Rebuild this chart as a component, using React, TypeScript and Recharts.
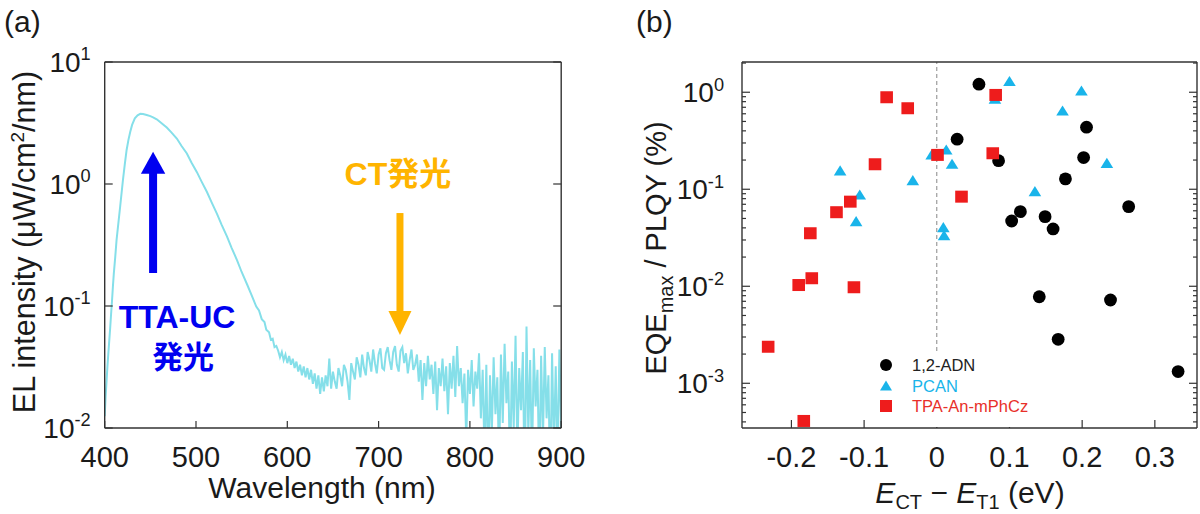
import React from 'react';
import { LineChart, Line, XAxis, YAxis, ScatterChart, Scatter, ReferenceLine, ReferenceDot, Legend } from 'recharts';

const FONT = "'Liberation Sans', Arial, 'Noto Sans CJK JP', sans-serif";
const AX = '#333';
const TXT = '#1a1a1a';

// ---------- Panel (a): EL spectrum ----------
const smoothWavelength = [400, 401, 402, 403, 404, 405, 406, 407, 408, 409, 410, 411.5, 413, 415, 417, 420, 422, 424, 426, 428, 430, 433, 436, 439, 442, 446, 450, 453, 457, 460, 464, 468, 473, 479, 484, 490, 495, 501, 506, 512, 517, 523, 528, 534, 539, 545, 550, 556, 561, 566, 569, 572, 575, 577, 580, 582, 584, 586, 588];
const smoothIntensity = [0.0125, 0.018, 0.024, 0.032, 0.041, 0.052, 0.066, 0.086, 0.11, 0.145, 0.185, 0.25, 0.348, 0.48, 0.66, 1.08, 1.45, 1.9, 2.3, 2.68, 3.05, 3.45, 3.66, 3.76, 3.74, 3.68, 3.6, 3.52, 3.39, 3.25, 3.08, 2.9, 2.65, 2.36, 2.06, 1.78, 1.5, 1.25, 1.05, 0.86, 0.71, 0.57, 0.465, 0.37, 0.3, 0.237, 0.19, 0.15, 0.122, 0.099, 0.092, 0.078, 0.074, 0.064, 0.061, 0.053, 0.054, 0.046, 0.047];
const noisyStart = 590;
const noisyStep = 2;
const noisyIntensity = [
  0.043, 0.038, 0.042, 0.036, 0.040, 0.034, 0.039, 0.033, 0.037, 0.031,
  0.035, 0.029, 0.033, 0.027, 0.032, 0.026, 0.031, 0.025, 0.030, 0.023,
  0.028, 0.021, 0.027, 0.019, 0.026, 0.020, 0.027, 0.022, 0.037, 0.021,
  0.029, 0.024, 0.021, 0.031, 0.027, 0.022, 0.033, 0.030, 0.024, 0.017,
  0.034, 0.029, 0.025, 0.038, 0.033, 0.026, 0.040, 0.031, 0.027, 0.042,
  0.036, 0.029, 0.044, 0.034, 0.028, 0.040, 0.045, 0.031, 0.030, 0.041,
  0.046, 0.036, 0.030, 0.042, 0.047, 0.033, 0.029, 0.043, 0.046, 0.034,
  0.041, 0.028, 0.036, 0.044, 0.030, 0.033, 0.040, 0.024, 0.036, 0.017,
  0.034, 0.022, 0.039, 0.025, 0.033, 0.019, 0.035, 0.014, 0.031, 0.022,
  0.037, 0.020, 0.032, 0.013, 0.034, 0.021, 0.039, 0.018, 0.047, 0.022,
  0.031, 0.016, 0.028, 0.008, 0.030, 0.019, 0.036, 0.015, 0.029, 0.021,
  0.041, 0.012, 0.030, 0.006, 0.033, 0.004, 0.027, 0.009, 0.038, 0.013,
  0.026, 0.005, 0.040, 0.011, 0.049, 0.016, 0.029, 0.004, 0.035, 0.010,
  0.057, 0.006, 0.031, 0.014, 0.042, 0.003, 0.068, 0.009, 0.036, 0.005,
  0.045, 0.015, 0.030, 0.004, 0.039, 0.008, 0.046, 0.012, 0.027, 0.003,
  0.041, 0.007, 0.032, 0.005, 0.044, 0.010,
];
const aXTicks = [400, 500, 600, 700, 800, 900];
const aYTicks = [0.01, 0.1, 1, 10];

// annotations (data coordinates)
const ttaArrow = { x: 453, yFrom: 0.186, yTo: 1.3, tip: 1.84 };
const ctArrow = { x: 723.4, yFrom: 0.578, yTo: 0.085, tip: 0.0578 };

// ---------- Panel (b): EQE/PLQY vs E_CT - E_T1 ----------
const adnX = [0.058, 0.028, 0.085, 0.206, 0.202, 0.177, 0.264, 0.103, 0.115, 0.149, 0.16, 0.141, 0.239, 0.167, 0.332];
const adnY = [1.21, 0.328, 0.197, 0.436, 0.212, 0.128, 0.0662, 0.0471, 0.0588, 0.0522, 0.039, 0.0078, 0.00722, 0.00284, 0.00132];
const pcanX = [0.1, 0.199, 0.173, 0.234, 0.135, 0.013, 0.021, -0.033, 0.009, 0.01, 0.08, -0.007, -0.133, -0.106, -0.111];
const pcanY = [1.29, 1.03, 0.641, 0.185, 0.0944, 0.254, 0.181, 0.123, 0.0402, 0.0332, 0.85, 0.226, 0.1545, 0.0873, 0.0464];
const tpaX = [-0.069, -0.04, -0.085, 0.001, -0.119, -0.138, -0.174, -0.19, -0.172, -0.114, -0.232, -0.183, 0.081, 0.077, 0.034];
const tpaY = [0.888, 0.684, 0.181, 0.226, 0.0745, 0.058, 0.0352, 0.0103, 0.0121, 0.00977, 0.00238, 0.000409, 0.938, 0.235, 0.0839];
const bXTicks = [-0.2, -0.1, 0, 0.1, 0.2, 0.3];
const bYMajor = [0.001, 0.01, 0.1, 1];
const bYMinor = [0.0004, 0.0005, 0.0006, 0.0007, 0.0008, 0.0009, 0.002, 0.003, 0.004, 0.005, 0.006, 0.007, 0.008, 0.009, 0.02, 0.03, 0.04, 0.05, 0.06, 0.07, 0.08, 0.09, 0.2, 0.3, 0.4, 0.5, 0.6, 0.7, 0.8, 0.9, 2];
const seriesNames = ['1,2-ADN', 'PCAN', 'TPA-An-mPhCz'];
const seriesColors = ['#000000', '#19b4ea', '#ee1c1c'];
const legendTextColors = ['#222222', '#19b4ea', '#e8302a'];

const specData = [
  ...smoothWavelength.map((wl, i) => ({ wl, v: smoothIntensity[i] })),
  ...noisyIntensity.map((v, i) => ({ wl: noisyStart + i * noisyStep, v })),
];
const toXY = (xs: number[], ys: number[]) => xs.map((x, i) => ({ x, y: ys[i] }));
const adnData = toXY(adnX, adnY);
const pcanData = toXY(pcanX, pcanY);
const tpaData = toXY(tpaX, tpaY);

const axisLine = { stroke: AX, strokeWidth: 1.4 };

const BottomTick = (p: any) => {
  const { x, y, payload, len, showLabel } = p;
  return (
    <g>
      <line x1={x} x2={x} y1={y} y2={y - len} stroke={AX} strokeWidth={1.2} />
      {showLabel && (
        <text x={x} y={y + 39} textAnchor="middle" fontSize={29} fill={TXT} fontFamily={FONT}>
          {String(payload.value)}
        </text>
      )}
    </g>
  );
};
const TopTick = (p: any) => {
  const { x, y, len } = p;
  return <line x1={x} x2={x} y1={y} y2={y + len} stroke={AX} strokeWidth={1.2} />;
};
const LeftTick = (p: any) => {
  const { x, y, payload, majors, gap, fs } = p;
  const major = majors.includes(payload.value);
  const exp = Math.round(Math.log10(payload.value));
  return (
    <g>
      <line x1={x} x2={x + (major ? 8 : 4)} y1={y} y2={y} stroke={AX} strokeWidth={1.2} />
      {major && (
        <text x={x - gap} y={y + fs * 0.36} textAnchor="end" fontSize={fs} fill={TXT} fontFamily={FONT}>
          10<tspan dy={-fs * 0.42} fontSize={fs * 0.65}>{String(exp)}</tspan>
        </text>
      )}
    </g>
  );
};
const RightTick = (p: any) => {
  const { x, y, payload, majors } = p;
  const major = majors.includes(payload.value);
  return <line x1={x} x2={x - (major ? 8 : 4)} y1={y} y2={y} stroke={AX} strokeWidth={1.2} />;
};

const arrowHead = (dir: number, color: string, halfW: number, len: number) => (p: any) => {
  const { cx, cy } = p;
  return <polygon points={`${cx},${cy} ${cx - halfW},${cy + dir * len} ${cx + halfW},${cy + dir * len}`} fill={color} />;
};
const textShape = (content: React.ReactNode, color: string, fs: number) => (p: any) => (
  <text x={p.cx} y={p.cy} textAnchor="middle" fontSize={fs} fontWeight="bold" fill={color} fontFamily={FONT}>
    {content}
  </text>
);

const circleShape = (p: any) => <circle cx={p.cx} cy={p.cy} r={6.4} fill={seriesColors[0]} />;
const triShape = (p: any) => (
  <polygon points={`${p.cx},${p.cy - 5.6} ${p.cx - 6.3},${p.cy + 4.6} ${p.cx + 6.3},${p.cy + 4.6}`} fill={seriesColors[1]} />
);
const squareShape = (p: any) => <rect x={p.cx - 6.3} y={p.cy - 6} width={12.6} height={12} fill={seriesColors[2]} />;

const LegendIcon = ({ i }: { i: number }) => (
  <svg width={14} height={14} style={{ display: 'block' }}>
    {i === 0 && <circle cx={7} cy={7} r={6} fill={seriesColors[0]} />}
    {i === 1 && <polygon points="7,1.5 1,11.5 13,11.5" fill={seriesColors[1]} />}
    {i === 2 && <rect x={1} y={1} width={12} height={12} fill={seriesColors[2]} />}
  </svg>
);
const renderLegend = () => (
  <div style={{ paddingTop: 3, fontFamily: FONT }}>
    {seriesNames.map((n, i) => (
      <div key={n} style={{ display: 'flex', alignItems: 'center', height: 20.5 }}>
        <div style={{ width: 14, marginLeft: 7, marginRight: 19 }}>
          <LegendIcon i={i} />
        </div>
        <span style={{ fontSize: 16.5, color: legendTextColors[i], lineHeight: '20px' }}>{n}</span>
      </div>
    ))}
  </div>
);

const axisCommon = { interval: 0 as const, tickSize: 0, tickMargin: 0, tickLine: false, axisLine, allowDataOverflow: true };

export default function App() {
  return (
    <div style={{ position: 'absolute', left: 0, top: 0, width: 1200, height: 514, background: '#fff', overflow: 'hidden' }}>
      <div style={{ position: 'absolute', left: 0, top: 0 }}>
        <LineChart width={600} height={514} data={specData} margin={{ top: 61, right: 37.8, bottom: 85, left: 103.7 }}>
          <XAxis xAxisId="b" dataKey="wl" type="number" domain={[400, 900]} ticks={aXTicks} height={1} {...axisCommon}
            tick={(p: any) => <BottomTick {...p} len={7} showLabel />} />
          <XAxis xAxisId="t" orientation="top" type="number" domain={[400, 900]} ticks={aXTicks} height={1} {...axisCommon}
            tick={(p: any) => <TopTick {...p} len={7} />} />
          <YAxis yAxisId="l" type="number" scale="log" domain={[0.01, 10]} ticks={aYTicks} width={1} {...axisCommon}
            tick={(p: any) => <LeftTick {...p} majors={aYTicks} gap={14} fs={28} />} />
          <YAxis yAxisId="r" orientation="right" type="number" scale="log" domain={[0.01, 10]} ticks={aYTicks} width={1} {...axisCommon}
            tick={(p: any) => <RightTick {...p} majors={aYTicks} />} />
          <Line xAxisId="b" yAxisId="l" dataKey="v" type="linear" stroke="#85dfe9" strokeWidth={2} dot={false} isAnimationActive={false} />
          <ReferenceLine xAxisId="b" yAxisId="l" segment={[{ x: ttaArrow.x, y: ttaArrow.yFrom }, { x: ttaArrow.x, y: ttaArrow.yTo }]} stroke="#0000f0" strokeWidth={8} />
          <ReferenceDot xAxisId="b" yAxisId="l" x={ttaArrow.x} y={ttaArrow.tip} r={0} shape={arrowHead(1, '#0000f0', 12.2, 22)} />
          <ReferenceLine xAxisId="b" yAxisId="l" segment={[{ x: ctArrow.x, y: ctArrow.yFrom }, { x: ctArrow.x, y: ctArrow.yTo }]} stroke="#ffb400" strokeWidth={7} />
          <ReferenceDot xAxisId="b" yAxisId="l" x={ctArrow.x} y={ctArrow.tip} r={0} shape={arrowHead(-1, '#ffb400', 11.5, 24)} />
          <ReferenceDot xAxisId="b" yAxisId="l" x={479.2} y={0.066} r={0} shape={textShape('TTA-UC', '#0000f0', 32)} />
          <ReferenceDot xAxisId="b" yAxisId="l" x={485.9} y={0.031} r={0} shape={textShape('発光', '#0000f0', 31)} />
          <ReferenceDot xAxisId="b" yAxisId="l" x={721.2} y={0.98} r={0} shape={textShape('CT発光', '#ffb400', 32)} />
        </LineChart>
      </div>
      <div style={{ position: 'absolute', left: 600, top: 0 }}>
        <ScatterChart width={600} height={514} margin={{ top: 61, right: 2, bottom: 85, left: 141 }}>
          <XAxis xAxisId="b" dataKey="x" type="number" domain={[-0.268, 0.358]} ticks={bXTicks} height={1} {...axisCommon}
            tick={(p: any) => <BottomTick {...p} len={8} showLabel />} />
          <XAxis xAxisId="t" orientation="top" type="number" domain={[-0.268, 0.358]} ticks={bXTicks} height={1} {...axisCommon}
            tick={(p: any) => <TopTick {...p} len={8} />} />
          <YAxis yAxisId="l" dataKey="y" type="number" scale="log" domain={[0.000346, 2.05]} ticks={[...bYMajor, ...bYMinor]} width={1} {...axisCommon}
            tick={(p: any) => <LeftTick {...p} majors={bYMajor} gap={18} fs={28} />} />
          <YAxis yAxisId="r" orientation="right" type="number" scale="log" domain={[0.000346, 2.05]} ticks={[...bYMajor, ...bYMinor]} width={1} {...axisCommon}
            tick={(p: any) => <RightTick {...p} majors={bYMajor} />} />
          <ReferenceLine xAxisId="b" yAxisId="l" x={0} stroke="#888" strokeWidth={1} strokeDasharray="4 3" />
          <Scatter xAxisId="b" yAxisId="l" name={seriesNames[0]} data={adnData} shape={circleShape} isAnimationActive={false} />
          <Scatter xAxisId="b" yAxisId="l" name={seriesNames[1]} data={pcanData} shape={triShape} isAnimationActive={false} />
          <Scatter xAxisId="b" yAxisId="l" name={seriesNames[2]} data={tpaData} shape={squareShape} isAnimationActive={false} />
          <Legend layout="vertical" align="center" verticalAlign="middle" content={renderLegend}
            wrapperStyle={{ position: 'absolute', left: 272, top: 352, width: 165, height: 75, background: '#fff' }} />
        </ScatterChart>
      </div>
      <svg width={1200} height={514} style={{ position: 'absolute', left: 0, top: 0, pointerEvents: 'none' }} fontFamily={FONT} fill={TXT}>
        <text x={4} y={32} fontSize={30}>(a)</text>
        <text x={636} y={32} fontSize={30}>(b)</text>
        <text x={322} y={498} fontSize={30} textAnchor="middle">Wavelength (nm)</text>
        <text transform="translate(35,242) rotate(-90)" fontSize={30.5} textAnchor="middle">
          EL intensity (μW/cm<tspan dy={-11} fontSize={19}>2</tspan><tspan dy={11}>/nm)</tspan>
        </text>
        <text transform="translate(666,248) rotate(-90)" fontSize={29} textAnchor="middle">
          EQE<tspan dy={7} fontSize={20}>max</tspan><tspan dy={-7}> / PLQY (%)</tspan>
        </text>
        <text x={970} y={503} fontSize={30} textAnchor="middle">
          <tspan fontStyle="italic">E</tspan><tspan dy={6} fontSize={20}>CT</tspan><tspan dy={-6}> − </tspan><tspan fontStyle="italic">E</tspan><tspan dy={6} fontSize={20}>T1</tspan><tspan dy={-6}> (eV)</tspan>
        </text>
      </svg>
    </div>
  );
}
